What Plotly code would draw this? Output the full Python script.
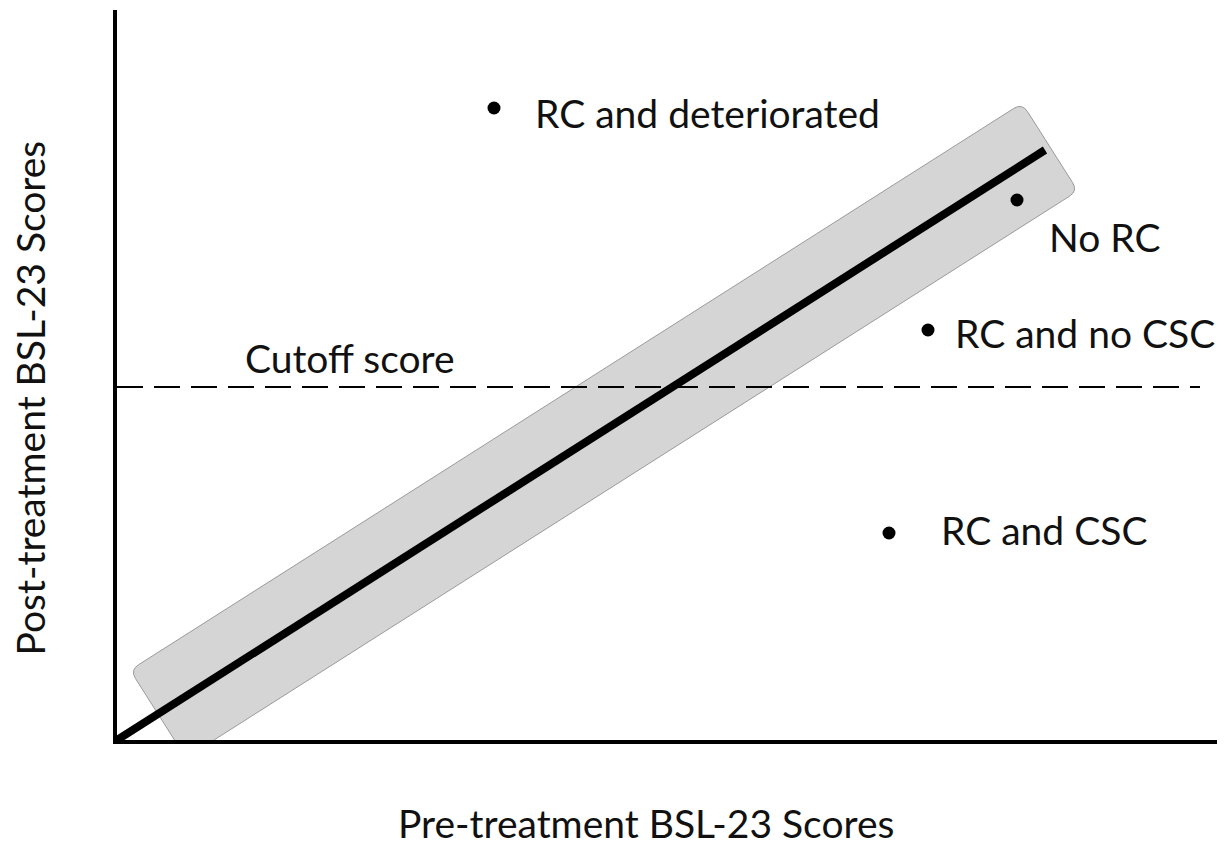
import numpy as np
import plotly.graph_objects as go

# ---- data (arbitrary score units) ----
point_x = [37.7, 90.0, 81.1, 77.2]
point_y = [63.2, 54.0, 41.0, 20.7]

label_text = ["RC and deteriorated", "No RC", "RC and no CSC", "RC and CSC", "Cutoff score"]
label_x = [41.6, 93.0, 83.6, 82.2, 12.6]
label_y = [62.7, 50.3, 40.7, 21.0, 38.2]

diag_x = [0.0, 92.8]
diag_y = [0.0, 59.0]

cutoff_y = 35.3
cutoff_x = [0.0, 108.3]

band_center_x = [4.1, 93.3]
band_center_y = [2.6, 59.3]
band_half_width = 5.2
band_corner_radius = 1.0

x_title = "Pre-treatment BSL-23 Scores"
y_title = "Post-treatment BSL-23 Scores"

FONT = "Lato"
FS = 39

# ---- band polygon (rounded rectangle around the no-change line) ----
A = np.array([band_center_x[0], band_center_y[0]])
B = np.array([band_center_x[1], band_center_y[1]])
d = (B - A) / np.linalg.norm(B - A)
nrm = np.array([-d[1], d[0]])
corners = [A + nrm * band_half_width, B + nrm * band_half_width,
           B - nrm * band_half_width, A - nrm * band_half_width]
r = band_corner_radius
path = ""
n = len(corners)
for i in range(n):
    C = corners[i]
    P = corners[i - 1]
    N = corners[(i + 1) % n]
    p1 = C + r * (P - C) / np.linalg.norm(P - C)
    p2 = C + r * (N - C) / np.linalg.norm(N - C)
    path += ("M" if i == 0 else "L") + f"{p1[0]:.3f},{p1[1]:.3f} "
    path += f"Q{C[0]:.3f},{C[1]:.3f} {p2[0]:.3f},{p2[1]:.3f} "
path += "Z"

fig = go.Figure()

fig.add_shape(type="path", path=path, xref="x", yref="y", layer="below",
              fillcolor="#d5d5d5", line=dict(color="#9a9a9a", width=1))

fig.add_trace(go.Scatter(x=cutoff_x, y=[cutoff_y, cutoff_y], mode="lines",
                         line=dict(color="black", width=2, dash="26px,11px"),
                         hoverinfo="skip", showlegend=False))

fig.add_trace(go.Scatter(x=diag_x, y=diag_y, mode="lines",
                         line=dict(color="black", width=8),
                         hoverinfo="skip", showlegend=False))

fig.add_trace(go.Scatter(x=point_x, y=point_y, mode="markers",
                         marker=dict(color="black", size=13, symbol="circle"),
                         hoverinfo="skip", showlegend=False))

for t, x, y in zip(label_text, label_x, label_y):
    fig.add_annotation(x=x, y=y, xref="x", yref="y", text=t, showarrow=False,
                       xanchor="left", yanchor="middle",
                       font=dict(family=FONT, size=FS, color="#111111"))

fig.add_annotation(x=0.481, y=-0.114, xref="paper", yref="paper", text=x_title,
                   showarrow=False, xanchor="center", yanchor="middle",
                   font=dict(family=FONT, size=FS, color="#111111"))
fig.add_annotation(x=-0.079, y=0.468, xref="paper", yref="paper", text=y_title,
                   showarrow=False, xanchor="center", yanchor="middle", textangle=-90,
                   font=dict(family=FONT, size=FS, color="#111111"))

axis_common = dict(showline=True, linewidth=4, linecolor="black", showgrid=False,
                   zeroline=False, showticklabels=False, ticks="", fixedrange=True)
fig.update_xaxes(range=[0, 110], **axis_common)
fig.update_yaxes(range=[0, 73], **axis_common)

fig.update_layout(width=1225, height=849, autosize=False,
                  margin=dict(l=117, r=8, t=10, b=109),
                  paper_bgcolor="white", plot_bgcolor="white")

fig.write_html("out.html", config={"displayModeBar": False},
               post_script="document.body.style.margin='0';document.body.style.overflow='hidden';")
